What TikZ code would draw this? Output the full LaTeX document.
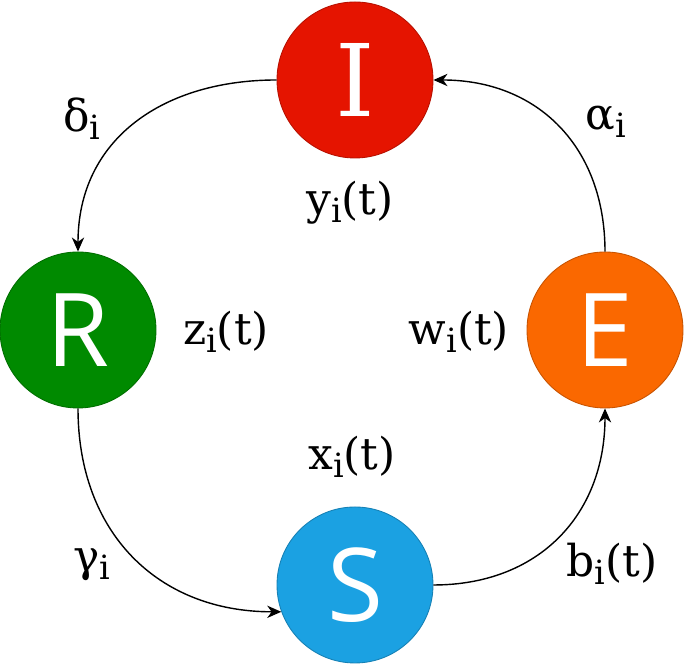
\documentclass[tikz,border=0pt]{standalone}
\usepackage{fontspec}
\setmainfont{DejaVu Serif}
\newfontfamily\lettersans{Open Sans}
\usetikzlibrary{arrows.meta, positioning}

\definecolor{redI}{HTML}{E51400}
\definecolor{greenR}{HTML}{008A00}
\definecolor{orangeE}{HTML}{FA6800}
\definecolor{blueS}{HTML}{1BA1E2}

% subscript i
\newcommand{\subi}{\raisebox{-4.5pt}{\fontsize{19}{19}\selectfont i}}

\begin{document}
\begin{tikzpicture}[
  compartment/.style={circle, minimum size=3.12cm, inner sep=0pt, line width=0.5pt,
    text=white, font=\lettersans\fontsize{58}{58}\selectfont},
  rate/.style={anchor=base, inner sep=0pt, font=\fontsize{25}{25}\selectfont},
  flow/.style={-{Stealth[length=8pt, width=7pt, inset=2.5pt]}, line width=0.8pt, looseness=1.1}
]
\useasboundingbox (0,0) rectangle (13.7,13.32);

\node[compartment, fill=redI, draw=redI!80!black, font=\rmfamily\fontsize{57}{57}\selectfont](I) at (7.1, 11.72) {I};
\node[compartment, fill=greenR, draw=greenR!80!black](R) at (1.56, 6.72) {R};
\node[compartment, fill=orangeE, draw=orangeE!80!black](E) at (12.1, 6.72) {E};
\node[compartment, fill=blueS, draw=blueS!80!black](S) at (7.1, 1.62) {S};

\node[rate](ldelta) at (1.64, 10.68) {δ\subi};
\node[rate](lalpha) at (12.12, 10.72) {α\subi};
\node[rate](ly) at (7.0, 9.02) {y\subi(t)};
\node[rate](lz) at (4.52, 6.42) {z\subi(t)};
\node[rate](lw) at (9.18, 6.42) {w\subi(t)};
\node[rate](lx) at (7.04, 3.92) {x\subi(t)};
\node[rate](lgamma) at (1.84, 1.88) {γ\subi};
\node[rate](lb) at (12.24, 1.78) {b\subi(t)};

\path(I.west)edge[flow, out=180, in=90](R.north);
\path(R.south)edge[flow, out=-90, in=180](S.200);
\path(S.east)edge[flow, out=0, in=-90](E.south);
\path(E.north)edge[flow, out=90, in=0](I.east);
\end{tikzpicture}
\end{document}
